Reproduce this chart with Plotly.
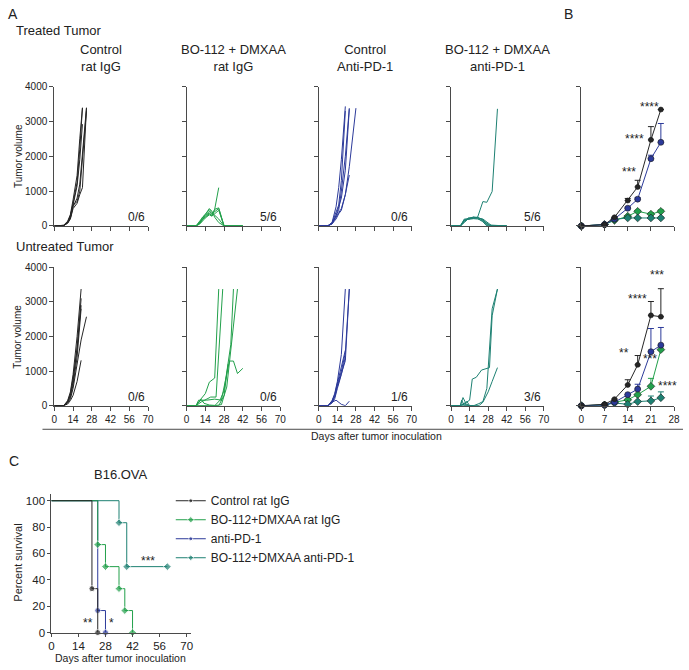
import plotly.graph_objects as go

# ---------------- DATA ----------------
# Panel A: individual tumour growth curves, (days, volume) per mouse
treated_ctrl_igg = [
    ([0, 7, 10, 12, 14, 17, 19, 21], [0, 20, 120, 300, 650, 1250, 2200, 3390]),
    ([0, 7, 10, 12, 14, 17, 19, 21], [0, 15, 100, 280, 600, 1150, 1900, 2920]),
    ([0, 7, 10, 12, 14, 17, 19, 21], [0, 20, 140, 330, 750, 1450, 2500, 3390]),
    ([0, 7, 10, 12, 14, 17, 19, 21, 24], [0, 10, 80, 200, 500, 650, 900, 1100, 3390]),
    ([0, 7, 10, 12, 14, 17, 19, 21, 24], [0, 10, 90, 230, 550, 800, 1200, 2100, 3390]),
    ([0, 7, 10, 12, 14, 17, 19, 21, 24], [0, 15, 100, 250, 600, 700, 1000, 1900, 3300]),
]
treated_bo_igg = [
    ([0, 7, 10, 12, 14, 17, 19, 21, 24, 28, 31, 35, 38, 42], [0, 0, 150, 250, 350, 470, 380, 300, 200, 0, 0, 0, 0, 0]),
    ([0, 7, 10, 12, 14, 17, 19, 21, 24, 28, 31, 35, 38, 42], [0, 0, 100, 220, 300, 420, 350, 420, 500, 0, 0, 0, 0, 0]),
    ([0, 7, 10, 12, 14, 17, 19, 21, 24, 28, 31, 35, 38, 42], [0, 0, 80, 180, 280, 380, 300, 350, 450, 0, 0, 0, 0, 0]),
    ([0, 7, 10, 12, 14, 17, 19, 21, 24, 28, 31, 35, 38, 42], [0, 0, 120, 260, 330, 500, 420, 250, 100, 0, 0, 0, 0, 0]),
    ([0, 7, 10, 12, 14, 17, 19, 21, 24, 28, 31, 35, 38, 42], [0, 0, 60, 150, 230, 320, 280, 480, 520, 0, 0, 0, 0, 0]),
    ([0, 7, 10, 12, 14, 17, 19, 21, 24], [0, 0, 90, 200, 250, 350, 300, 480, 1100]),
]
treated_ctrl_pd1 = [
    ([0, 7, 10, 13, 15, 17, 20], [0, 10, 100, 550, 1100, 1900, 3430]),
    ([0, 7, 10, 13, 15, 17, 20, 23], [0, 10, 80, 300, 450, 1000, 2000, 3380]),
    ([0, 7, 10, 13, 15, 17, 20, 23, 28], [0, 10, 60, 200, 350, 450, 900, 1700, 3380]),
    ([0, 7, 10, 13, 15, 17, 20, 23], [0, 10, 70, 250, 400, 500, 900, 1460]),
    ([0, 7, 10, 13, 15, 17, 20], [0, 10, 90, 400, 600, 1300, 3300]),
    ([0, 7, 10, 13, 15, 17, 20, 23], [0, 10, 60, 300, 550, 800, 1600, 3350]),
]
treated_bo_pd1 = [
    ([0, 7, 10, 13, 17, 20, 24, 27, 31, 35], [0, 0, 180, 220, 230, 250, 700, 680, 990, 3360]),
    ([0, 7, 10, 13, 17, 20, 24, 27, 30, 35, 42], [0, 0, 150, 200, 260, 240, 180, 80, 0, 0, 0]),
    ([0, 7, 10, 13, 17, 20, 24, 28, 31, 42], [0, 0, 100, 210, 220, 230, 200, 100, 0, 0]),
    ([0, 7, 10, 13, 17, 20, 24, 28, 42], [0, 0, 200, 190, 210, 200, 150, 0, 0]),
    ([0, 7, 10, 13, 17, 20, 24, 27, 42], [0, 0, 120, 230, 250, 220, 120, 0, 0]),
    ([0, 7, 10, 13, 17, 20, 24, 28, 42], [0, 0, 160, 200, 240, 250, 170, 30, 0]),
]
untreated_ctrl_igg = [
    ([0, 7, 10, 12, 14, 17, 20], [0, 0, 150, 400, 900, 2000, 3370]),
    ([0, 7, 10, 12, 14, 17, 20], [0, 0, 120, 300, 700, 1700, 2900]),
    ([0, 7, 10, 12, 14, 17, 20, 24], [0, 0, 80, 200, 500, 1200, 1900, 2570]),
    ([0, 7, 10, 12, 14, 17, 20], [0, 0, 50, 150, 300, 700, 1310]),
    ([0, 7, 10, 12, 14, 17, 20], [0, 0, 100, 250, 600, 1400, 2800]),
    ([0, 7, 10, 12, 14, 17, 20], [0, 0, 130, 350, 800, 1600, 3100]),
]
untreated_bo_igg = [
    ([0, 7, 10, 14, 17, 21, 24], [0, 0, 160, 350, 680, 800, 3370]),
    ([0, 7, 11, 14, 18, 22, 27], [0, 0, 110, 180, 250, 250, 3370]),
    ([0, 7, 14, 21, 25, 28, 33, 35], [0, 0, 0, 0, 160, 440, 1760, 3370]),
    ([0, 7, 9, 15, 21, 26, 28, 32, 35, 38, 42], [0, 0, 160, 160, 190, 160, 540, 1290, 1290, 930, 1080]),
    ([0, 7, 14, 21, 26, 30, 38], [0, 0, 0, 0, 30, 540, 3370]),
    ([0, 7, 11, 13, 17, 21, 24, 28, 31], [0, 0, 180, 70, 20, 0, 0, 300, 1200]),
]
untreated_ctrl_pd1 = [
    ([0, 7, 10, 12, 14, 17, 20], [0, 0, 150, 350, 700, 1480, 3370]),
    ([0, 7, 10, 12, 14, 17, 20, 23], [0, 0, 100, 250, 550, 900, 1300, 3370]),
    ([0, 7, 10, 12, 14, 17, 20, 23], [0, 0, 120, 300, 600, 1000, 1530, 3370]),
    ([0, 7, 10, 12, 14, 17, 20], [0, 0, 140, 320, 650, 1100, 1600]),
    ([0, 7, 10, 13, 17, 20, 23], [0, 0, 100, 160, 40, 0, 130]),
    ([0, 7, 10, 12, 14, 17, 20], [0, 0, 80, 200, 500, 900, 1400]),
]
untreated_bo_pd1 = [
    ([0, 7, 9, 11, 14, 16, 19, 23, 29, 31, 35], [0, 0, 235, 85, 160, 770, 820, 1030, 1100, 2600, 3370]),
    ([0, 7, 10, 14, 17, 21, 24, 28, 31, 35], [0, 0, 80, 0, 0, 0, 100, 400, 700, 1100]),
    ([0, 7, 10, 14, 17, 21, 24, 27, 31, 35], [0, 0, 0, 0, 0, 60, 120, 500, 2800, 3370]),
    ([0, 7, 8, 10, 14, 17, 21], [0, 0, 160, 0, 0, 0, 0]),
    ([0, 7, 10, 12, 14, 17], [0, 0, 60, 120, 0, 0]),
    ([0, 7, 10, 14, 17], [0, 0, 40, 0, 0]),
]
treated_free = ["0/6", "5/6", "0/6", "5/6"]
untreated_free = ["0/6", "0/6", "1/6", "3/6"]
group_titles = ["Control<br>rat IgG", "BO-112 + DMXAA<br>rat IgG",
                "Control<br>Anti-PD-1", "BO-112 + DMXAA<br>anti-PD-1"]

# Panel B: mean tumour volume (+SEM)
b_days = [0, 7, 10, 14, 17, 21, 24]
b_treated_ctrl_igg = [0, 40, 250, 730, 1120, 2470, 3340]
b_treated_ctrl_igg_err = [0, 0, 0, 60, 190, 380, 0]
b_treated_pd1 = [0, 40, 200, 510, 770, 1930, 2400]
b_treated_pd1_err = [0, 0, 0, 30, 40, 100, 540]
b_treated_bo_igg = [0, 40, 160, 280, 420, 340, 420]
b_treated_bo_igg_err = [0, 0, 0, 20, 30, 40, 40]
b_treated_bo_pd1 = [0, 40, 190, 230, 230, 230, 230]
b_treated_bo_pd1_err = [0, 0, 0, 20, 20, 30, 30]
b_untreated_ctrl_igg = [0, 40, 190, 600, 1180, 2610, 2570]
b_untreated_ctrl_igg_err = [0, 0, 0, 150, 270, 400, 810]
b_untreated_pd1 = [0, 20, 100, 320, 480, 1560, 1750]
b_untreated_pd1_err = [0, 0, 0, 0, 140, 670, 510]
b_untreated_bo_igg = [0, 20, 100, 170, 320, 560, 1620]
b_untreated_bo_igg_err = [0, 0, 0, 0, 0, 230, 0]
b_untreated_bo_pd1 = [0, 20, 80, 40, 120, 140, 230]
b_untreated_bo_pd1_err = [0, 0, 0, 0, 0, 140, 170]
b_treated_stars = [(20.6, 3420, "****"), (15.9, 2500, "****"), (14.5, 1540, "***")]
b_untreated_stars = [(22.8, 3780, "***"), (16.9, 3080, "****"), (13.0, 1520, "**"),
                     (20.6, 1360, "***"), (26.1, 570, "****")]

# Panel C: Kaplan-Meier survival (B16.OVA)
surv_names = ["Control rat IgG", "BO-112+DMXAA rat IgG", "anti-PD-1", "BO-112+DMXAA anti-PD-1"]
surv_ctrl_t = [0, 21, 24]
surv_ctrl_s = [100, 33.3, 0]
surv_bo_igg_t = [0, 24, 28, 35, 38, 42]
surv_bo_igg_s = [100, 66.7, 50, 33.3, 16.7, 0]
surv_pd1_t = [0, 24, 28]
surv_pd1_s = [100, 16.7, 0]
surv_bo_pd1_t = [0, 35, 39, 60]
surv_bo_pd1_s = [100, 83.3, 50, 50]
c_stars = [(18.9, 7, "**"), (31.2, 7, "*"), (50, 54, "***")]

# ---------------- STYLE ----------------
W, H = 689, 670
FONT = "Liberation Sans, Arial, sans-serif"
C_BLACK = "#262626"
C_GREEN = "#22a04b"
C_BLUE = "#2c3a9a"
C_TEAL = "#1d8072"
AX = "#4a4a4a"


def px(x):
    return x / W


def py(y):
    return 1 - y / H


fig = go.Figure()
layout = dict(width=W, height=H, margin=dict(l=0, r=0, t=0, b=0),
              paper_bgcolor="white", plot_bgcolor="white",
              font=dict(family=FONT, size=10, color="#222"), showlegend=True)

A_X = [(52, 147), (186, 281), (320, 414), (454, 548)]
B_X = (586, 680)
ROW_Y = [(82, 224), (266, 407)]


def axis_common():
    return dict(showline=True, linecolor=AX, linewidth=1, ticks="outside", ticklen=4,
                tickcolor=AX, tickwidth=1, showgrid=False, zeroline=False,
                ticklabeloverflow="allow",
                tickfont=dict(size=10, family=FONT, color="#222"))


annotations = []
ax_id = 0
panel_colors = [C_BLACK, C_GREEN, C_BLUE, C_TEAL]
rows = [[treated_ctrl_igg, treated_bo_igg, treated_ctrl_pd1, treated_bo_pd1],
        [untreated_ctrl_igg, untreated_bo_igg, untreated_ctrl_pd1, untreated_bo_pd1]]
free = [treated_free, untreated_free]
b_rows = [
    [(b_treated_ctrl_igg, b_treated_ctrl_igg_err), (b_treated_bo_igg, b_treated_bo_igg_err),
     (b_treated_pd1, b_treated_pd1_err), (b_treated_bo_pd1, b_treated_bo_pd1_err)],
    [(b_untreated_ctrl_igg, b_untreated_ctrl_igg_err), (b_untreated_bo_igg, b_untreated_bo_igg_err),
     (b_untreated_pd1, b_untreated_pd1_err), (b_untreated_bo_pd1, b_untreated_bo_pd1_err)],
]
b_stars = [b_treated_stars, b_untreated_stars]

for r in range(2):
    for p in range(4):
        ax_id += 1
        xa = "x" if ax_id == 1 else f"x{ax_id}"
        ya = "y" if ax_id == 1 else f"y{ax_id}"
        xk = "xaxis" if ax_id == 1 else f"xaxis{ax_id}"
        yk = "yaxis" if ax_id == 1 else f"yaxis{ax_id}"
        xd = dict(axis_common(), domain=[px(A_X[p][0]), px(A_X[p][1])], range=[0, 70],
                  tickvals=[0, 14, 28, 42, 56, 70], anchor=ya, showticklabels=(r == 1))
        yd = dict(axis_common(), domain=[py(ROW_Y[r][1]), py(ROW_Y[r][0])], range=[0, 4000],
                  tickvals=[0, 1000, 2000, 3000, 4000], anchor=xa, showticklabels=(p == 0))
        layout[xk] = xd
        layout[yk] = yd
        for days, vals in rows[r][p]:
            fig.add_trace(go.Scatter(x=days, y=vals, mode="lines", xaxis=xa, yaxis=ya,
                                     line=dict(color=panel_colors[p], width=1),
                                     showlegend=False, hoverinfo="skip", cliponaxis=False))
        annotations.append(dict(text=free[r][p], x=69, y=0, xref=xa, yref=ya,
                                xanchor="right", yanchor="bottom", showarrow=False,
                                font=dict(size=12, family=FONT, color="#222")))
    # panel B
    ax_id += 1
    xa, ya = f"x{ax_id}", f"y{ax_id}"
    layout[f"xaxis{ax_id}"] = dict(axis_common(), domain=[px(B_X[0]), px(B_X[1])], range=[0, 28],
                                   tickvals=[0, 7, 14, 21, 28], anchor=ya, showticklabels=(r == 1))
    layout[f"yaxis{ax_id}"] = dict(axis_common(), domain=[py(ROW_Y[r][1]), py(ROW_Y[r][0])],
                                   range=[0, 4000], tickvals=[0, 1000, 2000, 3000, 4000],
                                   anchor=xa, showticklabels=False)
    symbols = ["circle", "diamond", "circle", "diamond"]
    sizes = [5, 6, 6, 6]
    order = [1, 3, 2, 0]  # drawing order: green, teal, blue, black on top
    for gi in order:
        vals, err = b_rows[r][gi]
        fig.add_trace(go.Scatter(
            x=b_days, y=vals, mode="lines+markers", xaxis=xa, yaxis=ya,
            line=dict(color=panel_colors[gi], width=1),
            marker=dict(symbol=symbols[gi], size=sizes[gi], color=panel_colors[gi],
                        line=dict(color="#1a1a1a", width=0.6)),
            error_y=dict(type="data", symmetric=False, array=err, arrayminus=[0] * len(err),
                         color=panel_colors[gi], thickness=1, width=3),
            showlegend=False, hoverinfo="skip", cliponaxis=False))
    for sx, sy, st in b_stars[r]:
        annotations.append(dict(text=st, x=sx, y=sy, xref=xa, yref=ya, showarrow=False,
                                font=dict(size=12, family=FONT, color="#222")))

# panel C
layout["xaxis11"] = dict(axis_common(), domain=[px(49), px(190)], range=[0, 72],
                         tickvals=[0, 14, 28, 42, 56, 70], anchor="y11", ticklen=3,
                         tickfont=dict(size=11.5, family=FONT, color="#222"))
layout["yaxis11"] = dict(axis_common(), domain=[py(638), py(497)], range=[0, 105],
                         tickvals=[0, 20, 40, 60, 80, 100], anchor="x11", ticklen=3,
                         tickfont=dict(size=11.5, family=FONT, color="#222"))
surv = [(surv_bo_pd1_t, surv_bo_pd1_s, C_TEAL, 3, 4),
        (surv_pd1_t, surv_pd1_s, C_BLUE, 2, 3),
        (surv_bo_igg_t, surv_bo_igg_s, C_GREEN, 1, 2),
        (surv_ctrl_t, surv_ctrl_s, C_BLACK, 0, 1)]
for t, s, col, ni, rank in surv:
    symbol = "diamond" if ni in (1, 3) else "circle"
    fig.add_trace(go.Scatter(
        x=t, y=s, mode="lines+markers", xaxis="x11", yaxis="y11", name=surv_names[ni],
        line=dict(color=col, width=1, shape="hv"),
        marker=dict(symbol=symbol, size=[0] + [6] * (len(t) - 1), color=col),
        legendrank=rank, hoverinfo="skip", cliponaxis=False))
for sx, sy, st in c_stars:
    annotations.append(dict(text=st, x=sx, y=sy, xref="x11", yref="y11", showarrow=False,
                            font=dict(size=12, family=FONT, color="#222")))

layout["legend"] = dict(x=px(170), y=py(489), xanchor="left", yanchor="top",
                        font=dict(size=12, family=FONT, color="#222"),
                        bgcolor="rgba(0,0,0,0)", itemclick=False)


def txt(text, x, y, size, xanchor="left", angle=0):
    annotations.append(dict(text=text, x=px(x), y=py(y), xref="paper", yref="paper",
                            xanchor=xanchor, yanchor="middle", showarrow=False, textangle=angle,
                            font=dict(size=size, family=FONT, color="#222")))


txt("A", 3, 8, 14)
txt("B", 566, 8, 14)
txt("C", 4, 463, 14)
txt("Treated Tumor", 11, 25, 13)
txt("Untreated Tumor", 11, 245, 13)
centers = [99.5, 233.5, 367, 501]
for c, title in zip(centers, group_titles):
    txt(title, c, 53, 13, xanchor="center")
txt("Tumor volume", 15, 153, 10, xanchor="center", angle=-90)
txt("Tumor volume", 15, 337, 10, xanchor="center", angle=-90)
txt("Days after tumor inoculation", 378, 438, 10.5, xanchor="center")
txt("B16.OVA", 120, 477, 13, xanchor="center")
txt("Percent survival", 15, 567, 11, xanchor="center", angle=-90)
txt("Days after tumor inoculation", 119, 664, 10.5, xanchor="center")

layout["annotations"] = annotations
layout["shapes"] = [dict(type="line", xref="paper", yref="paper", x0=px(40), x1=px(689),
                         y0=py(431), y1=py(431), line=dict(color=AX, width=1))]
fig.update_layout(**layout)
fig.write_html("out.html", config={"displayModeBar": False},
               post_script="document.body.style.margin='0px';")
